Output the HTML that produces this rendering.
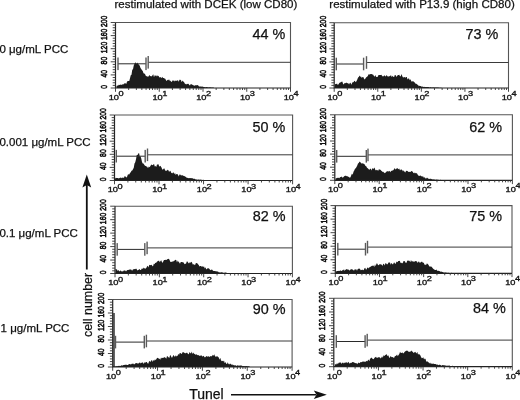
<!DOCTYPE html>
<html><head><meta charset="utf-8"><style>
html,body{margin:0;padding:0;background:#fff;}
body{width:520px;height:400px;overflow:hidden;position:relative;}
svg{position:absolute;left:0;top:0;filter:blur(0.4px);}
text{font-family:"Liberation Sans",sans-serif;fill:#111;stroke:#111;stroke-width:0.25px;}
.xl{font-size:7.0px;stroke-width:0.3px;}
.yl{font-size:8.2px;stroke-width:0.55px;}
.pc{font-size:14.4px;}
.hd{font-size:11.55px;}
.rl{font-size:11.5px;}
.ax{font-size:13px;}
</style></head><body>
<svg width="520" height="400" viewBox="0 0 520 400">
<text x="114.5" y="8.2" class="hd">restimulated with DCEK (low CD80)</text>
<text x="329.3" y="8.2" class="hd">restimulated with P13.9 (high CD80)</text>
<text x="-0.6" y="52.8" class="rl">0 &#956;g/mL PCC</text>
<text x="-0.6" y="146.3" class="rl">0.001 &#956;g/mL PCC</text>
<text x="-0.6" y="236.6" class="rl">0.1 &#956;g/mL PCC</text>
<text x="0.6" y="331.5" class="rl">1 &#956;g/mL PCC</text>
<text transform="translate(91.6,337) rotate(-90)" class="ax" style="font-size:12.4px">cell number</text>
<path d="M86.8,269.5V185" stroke="#111" stroke-width="1.8"/>
<path d="M86.8,174.5L91.2,187.5L86.8,185L82.4,187.5Z" fill="#111"/>
<text x="189.2" y="398.7" class="ax" style="font-size:14px">Tunel</text>
<path d="M231,394.7H316" stroke="#111" stroke-width="1.5"/>
<path d="M326.8,394.7L313.8,390.4L316.5,394.7L313.8,399Z" fill="#111"/>
<path d="M114.0,313V367" stroke="#555" stroke-width="1.8"/>
<path d="M116.50,88.00L116.50,86.03L117.25,85.52L118.00,85.70L118.75,84.81L119.50,85.08L120.25,84.68L121.00,84.42L121.75,84.97L122.50,84.26L123.25,84.41L124.00,83.66L124.75,83.24L125.50,83.34L126.25,84.08L127.00,81.63L127.75,81.00L128.50,81.00L129.25,80.99L130.00,78.18L130.75,75.36L131.50,74.77L132.25,69.74L133.00,69.14L133.75,65.58L134.50,63.72L135.25,62.60L136.00,62.66L136.75,64.06L137.50,62.60L138.25,63.94L139.00,64.87L139.75,65.64L140.50,68.09L141.25,69.01L142.00,70.13L142.75,71.06L143.50,73.25L144.25,73.52L145.00,74.01L145.75,75.77L146.50,76.33L147.25,76.25L148.00,77.00L148.75,75.99L149.50,74.92L150.25,76.23L151.00,75.95L151.75,76.41L152.50,75.16L153.25,74.37L154.00,77.14L154.75,75.16L155.50,75.56L156.25,76.44L157.00,75.07L157.75,76.22L158.50,75.85L159.25,77.26L160.00,77.59L160.75,76.97L161.50,78.14L162.25,76.66L163.00,77.91L163.75,77.94L164.50,78.53L165.25,78.81L166.00,80.35L166.75,80.98L167.50,79.63L168.25,80.35L169.00,79.16L169.75,80.73L170.50,80.68L171.25,82.09L172.00,81.55L172.75,80.13L173.50,80.48L174.25,81.40L175.00,80.19L175.75,81.10L176.50,80.65L177.25,80.43L178.00,80.23L178.75,81.70L179.50,79.78L180.25,79.64L181.00,80.26L181.75,82.24L182.50,80.62L183.25,81.55L184.00,82.09L184.75,83.56L185.50,83.93L186.25,84.59L187.00,83.66L187.75,83.90L188.50,83.79L189.25,85.07L190.00,85.46L190.75,84.04L191.50,84.33L192.25,84.68L193.00,84.98L193.75,85.54L194.50,85.70L195.25,85.32L196.00,85.17L196.75,85.32L197.50,85.05L198.25,85.56L199.00,86.52L199.75,86.46L200.50,86.45L201.25,86.61L202.00,86.73L202.75,86.43L203.50,87.06L204.25,87.01L205.00,87.17L205.75,87.19L206.50,87.05L207.25,87.15L208.00,87.18L208.75,87.40L209.50,87.30L210.25,87.35L211.00,87.43L211.75,87.48L212.50,87.57L213.25,87.59L214.00,87.65L214.00,88.00Z" fill="#1c1c1c"/>
<path d="M115.50,22.50H290.50V88.00" fill="none" stroke="#555" stroke-width="1.1"/>
<path d="M115.50,22.50V88.00H290.50" fill="none" stroke="#222" stroke-width="1.2"/>
<path d="M110.70,88.00H115.50M112.70,85.38H115.50M112.70,82.76H115.50M112.70,80.14H115.50M112.70,77.52H115.50M110.70,74.90H115.50M112.70,72.28H115.50M112.70,69.66H115.50M112.70,67.04H115.50M112.70,64.42H115.50M110.70,61.80H115.50M112.70,59.18H115.50M112.70,56.56H115.50M112.70,53.94H115.50M112.70,51.32H115.50M110.70,48.70H115.50M112.70,46.08H115.50M112.70,43.46H115.50M112.70,40.84H115.50M112.70,38.22H115.50M110.70,35.60H115.50M112.70,32.98H115.50M112.70,30.36H115.50M112.70,27.74H115.50M112.70,25.12H115.50M110.70,22.50H115.50" stroke="#333" stroke-width="0.9"/>
<path d="M115.50,88.00V91.80M128.67,88.00V90.00M136.37,88.00V90.00M141.84,88.00V90.00M146.08,88.00V90.00M149.54,88.00V90.00M152.47,88.00V90.00M155.01,88.00V90.00M157.25,88.00V90.00M159.25,88.00V91.80M172.42,88.00V90.00M180.12,88.00V90.00M185.59,88.00V90.00M189.83,88.00V90.00M193.29,88.00V90.00M196.22,88.00V90.00M198.76,88.00V90.00M201.00,88.00V90.00M203.00,88.00V91.80M216.17,88.00V90.00M223.87,88.00V90.00M229.34,88.00V90.00M233.58,88.00V90.00M237.04,88.00V90.00M239.97,88.00V90.00M242.51,88.00V90.00M244.75,88.00V90.00M246.75,88.00V91.80M259.92,88.00V90.00M267.62,88.00V90.00M273.09,88.00V90.00M277.33,88.00V90.00M280.79,88.00V90.00M283.72,88.00V90.00M286.26,88.00V90.00M288.50,88.00V90.00M290.50,88.00V91.80" stroke="#333" stroke-width="0.9"/>
<text transform="translate(108.70,99.80) scale(1.32,1)" class="xl">10</text>
<text transform="translate(118.50,96.00) scale(1.32,1)" class="xl">0</text>
<text transform="translate(152.45,99.80) scale(1.32,1)" class="xl">10</text>
<text transform="translate(162.25,96.00) scale(1.32,1)" class="xl">1</text>
<text transform="translate(196.20,99.80) scale(1.32,1)" class="xl">10</text>
<text transform="translate(206.00,96.00) scale(1.32,1)" class="xl">2</text>
<text transform="translate(239.95,99.80) scale(1.32,1)" class="xl">10</text>
<text transform="translate(249.75,96.00) scale(1.32,1)" class="xl">3</text>
<text transform="translate(283.70,99.80) scale(1.32,1)" class="xl">10</text>
<text transform="translate(293.50,96.00) scale(1.32,1)" class="xl">4</text>
<text transform="translate(106.90,86.80) rotate(-90) scale(0.83,1.2)" class="yl" text-anchor="middle">0</text>
<text transform="translate(106.90,73.70) rotate(-90) scale(0.83,1.2)" class="yl" text-anchor="middle">40</text>
<text transform="translate(106.90,60.60) rotate(-90) scale(0.83,1.2)" class="yl" text-anchor="middle">80</text>
<text transform="translate(106.90,47.50) rotate(-90) scale(0.83,1.2)" class="yl" text-anchor="middle">120</text>
<text transform="translate(106.90,34.40) rotate(-90) scale(0.83,1.2)" class="yl" text-anchor="middle">160</text>
<text transform="translate(106.90,21.30) rotate(-90) scale(0.83,1.2)" class="yl" text-anchor="middle">200</text>
<path d="M118.00,63.80H146.00" stroke="#2a2a2a" stroke-width="1.0"/>
<path d="M148.20,62.30H290.50" stroke="#3a3a3a" stroke-width="1.0"/>
<rect x="117.30" y="57.50" width="1.4" height="12.60" fill="#5a5a5a"/>
<rect x="145.30" y="57.50" width="1.4" height="12.60" fill="#5a5a5a"/>
<rect x="147.50" y="56.00" width="1.4" height="12.60" fill="#5a5a5a"/>
<text x="285.40" y="39.10" class="pc" text-anchor="end">44 %</text>
<path d="M334.80,88.00L334.80,84.54L335.55,83.98L336.30,84.03L337.05,83.50L337.80,84.99L338.55,84.15L339.30,83.06L340.05,82.58L340.80,82.20L341.55,81.73L342.30,81.57L343.05,83.73L343.80,84.56L344.55,83.02L345.30,83.26L346.05,82.68L346.80,82.82L347.55,83.29L348.30,83.27L349.05,84.60L349.80,82.94L350.55,82.69L351.30,84.77L352.05,83.24L352.80,81.93L353.55,82.29L354.30,80.83L355.05,81.27L355.80,82.19L356.55,80.96L357.30,79.57L358.05,77.58L358.80,76.88L359.55,75.60L360.30,76.84L361.05,76.62L361.80,77.97L362.55,77.09L363.30,77.05L364.05,78.84L364.80,79.45L365.55,78.21L366.30,77.32L367.05,76.71L367.80,76.04L368.55,74.28L369.30,74.62L370.05,74.34L370.80,73.98L371.55,74.11L372.30,74.57L373.05,74.60L373.80,75.74L374.55,76.72L375.30,75.02L376.05,76.64L376.80,76.97L377.55,76.96L378.30,75.19L379.05,75.04L379.80,75.11L380.55,74.93L381.30,74.80L382.05,75.69L382.80,76.53L383.55,76.36L384.30,75.32L385.05,75.97L385.80,76.60L386.55,74.94L387.30,76.00L388.05,76.67L388.80,76.15L389.55,76.28L390.30,75.68L391.05,75.29L391.80,77.15L392.55,75.64L393.30,76.78L394.05,77.21L394.80,75.08L395.55,74.93L396.30,76.84L397.05,76.14L397.80,74.88L398.55,74.95L399.30,74.82L400.05,76.60L400.80,75.92L401.55,73.88L402.30,76.22L403.05,77.57L403.80,77.13L404.55,77.04L405.30,77.70L406.05,76.91L406.80,76.93L407.55,79.51L408.30,78.55L409.05,78.56L409.80,80.33L410.55,79.13L411.30,81.29L412.05,81.87L412.80,80.89L413.55,81.55L414.30,82.22L415.05,82.74L415.80,83.99L416.55,83.87L417.30,84.64L418.05,84.70L418.80,86.18L419.55,85.70L420.30,85.99L421.05,86.29L421.80,86.80L422.55,86.46L423.30,87.04L424.05,86.82L424.80,86.99L425.55,87.11L426.30,86.98L427.05,87.12L427.80,87.07L428.55,87.07L429.30,87.38L430.05,87.15L430.80,87.27L431.55,87.41L432.30,87.38L433.05,87.34L433.80,87.44L434.55,87.49L435.30,87.60L436.05,87.48L436.80,87.61L437.55,87.58L438.30,87.62L439.05,87.74L439.80,87.71L440.55,87.75L441.30,87.81L442.00,88.00Z" fill="#1c1c1c"/>
<path d="M334.20,22.70H508.50V88.00" fill="none" stroke="#555" stroke-width="1.1"/>
<path d="M334.20,22.70V88.00H508.50" fill="none" stroke="#222" stroke-width="1.2"/>
<path d="M329.40,88.00H334.20M331.40,85.39H334.20M331.40,82.78H334.20M331.40,80.16H334.20M331.40,77.55H334.20M329.40,74.94H334.20M331.40,72.33H334.20M331.40,69.72H334.20M331.40,67.10H334.20M331.40,64.49H334.20M329.40,61.88H334.20M331.40,59.27H334.20M331.40,56.66H334.20M331.40,54.04H334.20M331.40,51.43H334.20M329.40,48.82H334.20M331.40,46.21H334.20M331.40,43.60H334.20M331.40,40.98H334.20M331.40,38.37H334.20M329.40,35.76H334.20M331.40,33.15H334.20M331.40,30.54H334.20M331.40,27.92H334.20M331.40,25.31H334.20M329.40,22.70H334.20" stroke="#333" stroke-width="0.9"/>
<path d="M334.20,88.00V91.80M347.32,88.00V90.00M354.99,88.00V90.00M360.43,88.00V90.00M364.66,88.00V90.00M368.11,88.00V90.00M371.03,88.00V90.00M373.55,88.00V90.00M375.78,88.00V90.00M377.77,88.00V91.80M390.89,88.00V90.00M398.57,88.00V90.00M404.01,88.00V90.00M408.23,88.00V90.00M411.68,88.00V90.00M414.60,88.00V90.00M417.13,88.00V90.00M419.36,88.00V90.00M421.35,88.00V91.80M434.47,88.00V90.00M442.14,88.00V90.00M447.58,88.00V90.00M451.81,88.00V90.00M455.26,88.00V90.00M458.18,88.00V90.00M460.70,88.00V90.00M462.93,88.00V90.00M464.93,88.00V91.80M478.04,88.00V90.00M485.72,88.00V90.00M491.16,88.00V90.00M495.38,88.00V90.00M498.83,88.00V90.00M501.75,88.00V90.00M504.28,88.00V90.00M506.51,88.00V90.00M508.50,88.00V91.80" stroke="#333" stroke-width="0.9"/>
<text transform="translate(327.40,99.80) scale(1.32,1)" class="xl">10</text>
<text transform="translate(337.20,96.00) scale(1.32,1)" class="xl">0</text>
<text transform="translate(370.97,99.80) scale(1.32,1)" class="xl">10</text>
<text transform="translate(380.77,96.00) scale(1.32,1)" class="xl">1</text>
<text transform="translate(414.55,99.80) scale(1.32,1)" class="xl">10</text>
<text transform="translate(424.35,96.00) scale(1.32,1)" class="xl">2</text>
<text transform="translate(458.12,99.80) scale(1.32,1)" class="xl">10</text>
<text transform="translate(467.93,96.00) scale(1.32,1)" class="xl">3</text>
<text transform="translate(501.70,99.80) scale(1.32,1)" class="xl">10</text>
<text transform="translate(511.50,96.00) scale(1.32,1)" class="xl">4</text>
<text transform="translate(325.60,86.80) rotate(-90) scale(0.83,1.2)" class="yl" text-anchor="middle">0</text>
<text transform="translate(325.60,73.74) rotate(-90) scale(0.83,1.2)" class="yl" text-anchor="middle">40</text>
<text transform="translate(325.60,60.68) rotate(-90) scale(0.83,1.2)" class="yl" text-anchor="middle">80</text>
<text transform="translate(325.60,47.62) rotate(-90) scale(0.83,1.2)" class="yl" text-anchor="middle">120</text>
<text transform="translate(325.60,34.56) rotate(-90) scale(0.83,1.2)" class="yl" text-anchor="middle">160</text>
<text transform="translate(325.60,21.50) rotate(-90) scale(0.83,1.2)" class="yl" text-anchor="middle">200</text>
<path d="M336.30,64.00H363.60" stroke="#2a2a2a" stroke-width="1.0"/>
<path d="M366.50,62.50H508.50" stroke="#3a3a3a" stroke-width="1.0"/>
<rect x="335.60" y="57.70" width="1.4" height="12.60" fill="#5a5a5a"/>
<rect x="362.90" y="57.70" width="1.4" height="12.60" fill="#5a5a5a"/>
<rect x="365.80" y="56.20" width="1.4" height="12.60" fill="#5a5a5a"/>
<text x="498.40" y="39.10" class="pc" text-anchor="end">73 %</text>
<path d="M115.00,180.50L115.00,178.67L115.75,177.81L116.50,178.11L117.25,178.01L118.00,178.09L118.75,178.42L119.50,177.93L120.25,177.67L121.00,177.40L121.75,178.23L122.50,177.50L123.25,177.79L124.00,177.84L124.75,176.07L125.50,176.45L126.25,177.42L127.00,176.88L127.75,174.72L128.50,174.31L129.25,174.53L130.00,172.97L130.75,172.27L131.50,170.74L132.25,170.57L133.00,169.25L133.75,167.64L134.50,163.47L135.25,162.15L136.00,159.16L136.75,155.00L137.50,155.03L138.25,153.87L139.00,152.81L139.75,156.46L140.50,156.33L141.25,158.40L142.00,162.10L142.75,163.58L143.50,163.54L144.25,164.83L145.00,165.80L145.75,166.11L146.50,166.44L147.25,166.84L148.00,168.14L148.75,166.43L149.50,167.26L150.25,166.35L151.00,164.90L151.75,164.59L152.50,165.20L153.25,164.73L154.00,163.73L154.75,166.52L155.50,166.05L156.25,166.95L157.00,164.40L157.75,164.50L158.50,164.34L159.25,166.65L160.00,165.81L160.75,166.26L161.50,167.49L162.25,169.61L163.00,169.62L163.75,168.40L164.50,168.59L165.25,171.10L166.00,170.19L166.75,170.89L167.50,169.77L168.25,170.03L169.00,171.69L169.75,171.17L170.50,170.79L171.25,173.34L172.00,172.50L172.75,173.44L173.50,172.03L174.25,174.37L175.00,172.74L175.75,175.08L176.50,174.02L177.25,174.01L178.00,174.83L178.75,176.38L179.50,174.60L180.25,174.57L181.00,175.60L181.75,175.15L182.50,175.23L183.25,175.64L184.00,175.89L184.75,176.37L185.50,176.85L186.25,177.13L187.00,178.12L187.75,177.65L188.50,178.15L189.25,178.09L190.00,178.22L190.75,178.02L191.50,178.14L192.25,178.02L193.00,178.76L193.75,178.75L194.50,178.70L195.25,179.12L196.00,179.69L196.75,179.26L197.50,179.68L198.25,179.48L199.00,179.56L199.75,179.80L200.50,179.60L201.25,179.70L202.00,179.83L202.75,180.03L203.50,179.79L204.25,180.02L205.00,180.00L205.75,180.02L206.00,180.50Z" fill="#1c1c1c"/>
<path d="M114.50,115.00H292.60V180.50" fill="none" stroke="#555" stroke-width="1.1"/>
<path d="M114.50,115.00V180.50H292.60" fill="none" stroke="#222" stroke-width="1.2"/>
<path d="M109.70,180.50H114.50M111.70,177.88H114.50M111.70,175.26H114.50M111.70,172.64H114.50M111.70,170.02H114.50M109.70,167.40H114.50M111.70,164.78H114.50M111.70,162.16H114.50M111.70,159.54H114.50M111.70,156.92H114.50M109.70,154.30H114.50M111.70,151.68H114.50M111.70,149.06H114.50M111.70,146.44H114.50M111.70,143.82H114.50M109.70,141.20H114.50M111.70,138.58H114.50M111.70,135.96H114.50M111.70,133.34H114.50M111.70,130.72H114.50M109.70,128.10H114.50M111.70,125.48H114.50M111.70,122.86H114.50M111.70,120.24H114.50M111.70,117.62H114.50M109.70,115.00H114.50" stroke="#333" stroke-width="0.9"/>
<path d="M114.50,180.50V184.30M127.90,180.50V182.50M135.74,180.50V182.50M141.31,180.50V182.50M145.62,180.50V182.50M149.15,180.50V182.50M152.13,180.50V182.50M154.71,180.50V182.50M156.99,180.50V182.50M159.03,180.50V184.30M172.43,180.50V182.50M180.27,180.50V182.50M185.83,180.50V182.50M190.15,180.50V182.50M193.67,180.50V182.50M196.65,180.50V182.50M199.24,180.50V182.50M201.51,180.50V182.50M203.55,180.50V184.30M216.95,180.50V182.50M224.79,180.50V182.50M230.36,180.50V182.50M234.67,180.50V182.50M238.20,180.50V182.50M241.18,180.50V182.50M243.76,180.50V182.50M246.04,180.50V182.50M248.08,180.50V184.30M261.48,180.50V182.50M269.32,180.50V182.50M274.88,180.50V182.50M279.20,180.50V182.50M282.72,180.50V182.50M285.70,180.50V182.50M288.29,180.50V182.50M290.56,180.50V182.50M292.60,180.50V184.30" stroke="#333" stroke-width="0.9"/>
<text transform="translate(107.70,192.30) scale(1.32,1)" class="xl">10</text>
<text transform="translate(117.50,188.50) scale(1.32,1)" class="xl">0</text>
<text transform="translate(152.22,192.30) scale(1.32,1)" class="xl">10</text>
<text transform="translate(162.03,188.50) scale(1.32,1)" class="xl">1</text>
<text transform="translate(196.75,192.30) scale(1.32,1)" class="xl">10</text>
<text transform="translate(206.55,188.50) scale(1.32,1)" class="xl">2</text>
<text transform="translate(241.28,192.30) scale(1.32,1)" class="xl">10</text>
<text transform="translate(251.08,188.50) scale(1.32,1)" class="xl">3</text>
<text transform="translate(285.80,192.30) scale(1.32,1)" class="xl">10</text>
<text transform="translate(295.60,188.50) scale(1.32,1)" class="xl">4</text>
<text transform="translate(105.90,179.30) rotate(-90) scale(0.83,1.2)" class="yl" text-anchor="middle">0</text>
<text transform="translate(105.90,166.20) rotate(-90) scale(0.83,1.2)" class="yl" text-anchor="middle">40</text>
<text transform="translate(105.90,153.10) rotate(-90) scale(0.83,1.2)" class="yl" text-anchor="middle">80</text>
<text transform="translate(105.90,140.00) rotate(-90) scale(0.83,1.2)" class="yl" text-anchor="middle">120</text>
<text transform="translate(105.90,126.90) rotate(-90) scale(0.83,1.2)" class="yl" text-anchor="middle">160</text>
<text transform="translate(105.90,113.80) rotate(-90) scale(0.83,1.2)" class="yl" text-anchor="middle">200</text>
<path d="M116.30,156.20H145.20" stroke="#2a2a2a" stroke-width="1.0"/>
<path d="M147.50,154.80H292.60" stroke="#3a3a3a" stroke-width="1.0"/>
<rect x="115.60" y="149.90" width="1.4" height="12.60" fill="#5a5a5a"/>
<rect x="144.50" y="149.90" width="1.4" height="12.60" fill="#5a5a5a"/>
<rect x="146.80" y="148.50" width="1.4" height="12.60" fill="#5a5a5a"/>
<text x="285.40" y="131.90" class="pc" text-anchor="end">50 %</text>
<path d="M335.50,180.30L335.50,178.40L336.25,178.25L337.00,177.93L337.75,177.81L338.50,177.63L339.25,178.23L340.00,177.30L340.75,176.92L341.50,176.57L342.25,177.59L343.00,177.51L343.75,176.87L344.50,175.95L345.25,175.74L346.00,175.67L346.75,176.25L347.50,176.13L348.25,176.87L349.00,176.94L349.75,177.71L350.50,177.23L351.25,175.14L352.00,173.49L352.75,174.73L353.50,171.72L354.25,170.62L355.00,168.87L355.75,168.17L356.50,166.99L357.25,165.57L358.00,163.40L358.75,162.98L359.50,161.47L360.25,162.34L361.00,162.64L361.75,163.71L362.50,163.32L363.25,163.51L364.00,164.09L364.75,164.51L365.50,165.91L366.25,166.30L367.00,167.74L367.75,168.18L368.50,169.12L369.25,169.99L370.00,168.64L370.75,168.69L371.50,170.61L372.25,167.91L373.00,169.05L373.75,168.50L374.50,167.55L375.25,169.84L376.00,170.42L376.75,169.70L377.50,170.25L378.25,170.72L379.00,169.01L379.75,169.82L380.50,169.77L381.25,170.85L382.00,171.29L382.75,171.97L383.50,171.74L384.25,173.37L385.00,172.61L385.75,172.65L386.50,171.45L387.25,171.21L388.00,171.30L388.75,171.58L389.50,170.77L390.25,172.28L391.00,170.97L391.75,170.81L392.50,170.42L393.25,170.21L394.00,169.25L394.75,168.03L395.50,169.48L396.25,169.08L397.00,168.10L397.75,168.54L398.50,169.36L399.25,168.49L400.00,170.49L400.75,169.44L401.50,169.46L402.25,169.98L403.00,171.50L403.75,170.31L404.50,171.71L405.25,172.60L406.00,170.94L406.75,170.66L407.50,170.99L408.25,171.71L409.00,172.10L409.75,171.71L410.50,171.92L411.25,170.94L412.00,171.29L412.75,171.72L413.50,173.31L414.25,172.41L415.00,173.43L415.75,172.75L416.50,173.14L417.25,173.79L418.00,175.22L418.75,175.65L419.50,175.94L420.25,175.35L421.00,176.17L421.75,176.33L422.50,176.60L423.25,176.42L424.00,178.01L424.75,177.04L425.50,178.49L426.25,178.54L427.00,177.61L427.75,178.15L428.50,178.77L429.25,179.11L430.00,178.69L430.75,178.76L431.50,178.90L432.25,179.52L433.00,179.19L433.75,179.49L434.50,179.47L435.25,179.64L436.00,179.86L436.75,179.62L437.50,179.86L438.25,179.79L439.00,179.95L439.75,179.92L440.50,179.85L441.25,180.03L442.00,179.95L442.75,179.93L443.50,179.96L444.25,180.03L445.00,180.06L445.75,180.07L446.00,180.30Z" fill="#1c1c1c"/>
<path d="M334.80,114.80H512.40V180.30" fill="none" stroke="#555" stroke-width="1.1"/>
<path d="M334.80,114.80V180.30H512.40" fill="none" stroke="#222" stroke-width="1.2"/>
<path d="M330.00,180.30H334.80M332.00,177.68H334.80M332.00,175.06H334.80M332.00,172.44H334.80M332.00,169.82H334.80M330.00,167.20H334.80M332.00,164.58H334.80M332.00,161.96H334.80M332.00,159.34H334.80M332.00,156.72H334.80M330.00,154.10H334.80M332.00,151.48H334.80M332.00,148.86H334.80M332.00,146.24H334.80M332.00,143.62H334.80M330.00,141.00H334.80M332.00,138.38H334.80M332.00,135.76H334.80M332.00,133.14H334.80M332.00,130.52H334.80M330.00,127.90H334.80M332.00,125.28H334.80M332.00,122.66H334.80M332.00,120.04H334.80M332.00,117.42H334.80M330.00,114.80H334.80" stroke="#333" stroke-width="0.9"/>
<path d="M334.80,180.30V184.10M348.17,180.30V182.30M355.98,180.30V182.30M361.53,180.30V182.30M365.83,180.30V182.30M369.35,180.30V182.30M372.32,180.30V182.30M374.90,180.30V182.30M377.17,180.30V182.30M379.20,180.30V184.10M392.57,180.30V182.30M400.38,180.30V182.30M405.93,180.30V182.30M410.23,180.30V182.30M413.75,180.30V182.30M416.72,180.30V182.30M419.30,180.30V182.30M421.57,180.30V182.30M423.60,180.30V184.10M436.97,180.30V182.30M444.78,180.30V182.30M450.33,180.30V182.30M454.63,180.30V182.30M458.15,180.30V182.30M461.12,180.30V182.30M463.70,180.30V182.30M465.97,180.30V182.30M468.00,180.30V184.10M481.37,180.30V182.30M489.18,180.30V182.30M494.73,180.30V182.30M499.03,180.30V182.30M502.55,180.30V182.30M505.52,180.30V182.30M508.10,180.30V182.30M510.37,180.30V182.30M512.40,180.30V184.10" stroke="#333" stroke-width="0.9"/>
<text transform="translate(328.00,192.10) scale(1.32,1)" class="xl">10</text>
<text transform="translate(337.80,188.30) scale(1.32,1)" class="xl">0</text>
<text transform="translate(372.40,192.10) scale(1.32,1)" class="xl">10</text>
<text transform="translate(382.20,188.30) scale(1.32,1)" class="xl">1</text>
<text transform="translate(416.80,192.10) scale(1.32,1)" class="xl">10</text>
<text transform="translate(426.60,188.30) scale(1.32,1)" class="xl">2</text>
<text transform="translate(461.20,192.10) scale(1.32,1)" class="xl">10</text>
<text transform="translate(471.00,188.30) scale(1.32,1)" class="xl">3</text>
<text transform="translate(505.60,192.10) scale(1.32,1)" class="xl">10</text>
<text transform="translate(515.40,188.30) scale(1.32,1)" class="xl">4</text>
<text transform="translate(326.20,179.10) rotate(-90) scale(0.83,1.2)" class="yl" text-anchor="middle">0</text>
<text transform="translate(326.20,166.00) rotate(-90) scale(0.83,1.2)" class="yl" text-anchor="middle">40</text>
<text transform="translate(326.20,152.90) rotate(-90) scale(0.83,1.2)" class="yl" text-anchor="middle">80</text>
<text transform="translate(326.20,139.80) rotate(-90) scale(0.83,1.2)" class="yl" text-anchor="middle">120</text>
<text transform="translate(326.20,126.70) rotate(-90) scale(0.83,1.2)" class="yl" text-anchor="middle">160</text>
<text transform="translate(326.20,113.60) rotate(-90) scale(0.83,1.2)" class="yl" text-anchor="middle">200</text>
<path d="M336.70,156.30H366.30" stroke="#2a2a2a" stroke-width="1.0"/>
<path d="M368.00,154.90H512.40" stroke="#3a3a3a" stroke-width="1.0"/>
<rect x="336.00" y="150.00" width="1.4" height="12.60" fill="#5a5a5a"/>
<rect x="365.60" y="150.00" width="1.4" height="12.60" fill="#5a5a5a"/>
<rect x="367.30" y="148.60" width="1.4" height="12.60" fill="#5a5a5a"/>
<text x="502.10" y="131.50" class="pc" text-anchor="end">62 %</text>
<path d="M115.50,273.50L115.50,268.87L116.25,269.26L117.00,269.54L117.75,270.90L118.50,269.97L119.25,271.20L120.00,271.37L120.75,270.36L121.50,271.56L122.25,271.13L123.00,271.50L123.75,270.51L124.50,270.51L125.25,270.43L126.00,271.53L126.75,270.56L127.50,270.08L128.25,270.08L129.00,269.75L129.75,269.43L130.50,269.35L131.25,270.61L132.00,269.33L132.75,270.75L133.50,269.06L134.25,268.97L135.00,269.34L135.75,268.64L136.50,268.84L137.25,270.41L138.00,270.08L138.75,269.76L139.50,269.09L140.25,269.97L141.00,270.01L141.75,268.57L142.50,269.01L143.25,267.39L144.00,268.84L144.75,267.88L145.50,268.69L146.25,267.98L147.00,266.54L147.75,265.70L148.50,267.48L149.25,264.79L150.00,265.35L150.75,264.91L151.50,264.68L152.25,265.78L153.00,266.40L153.75,263.69L154.50,264.21L155.25,262.76L156.00,262.89L156.75,262.07L157.50,261.27L158.25,260.90L159.00,260.60L159.75,262.32L160.50,260.95L161.25,260.33L162.00,262.32L162.75,262.69L163.50,260.75L164.25,260.01L165.00,259.95L165.75,259.69L166.50,259.97L167.25,259.20L168.00,259.04L168.75,258.72L169.50,259.86L170.25,261.70L171.00,261.94L171.75,261.68L172.50,261.59L173.25,261.57L174.00,260.87L174.75,260.48L175.50,259.74L176.25,259.98L177.00,262.54L177.75,260.60L178.50,261.80L179.25,262.61L180.00,263.85L180.75,262.02L181.50,262.12L182.25,262.08L183.00,262.40L183.75,262.51L184.50,264.21L185.25,263.71L186.00,263.71L186.75,261.53L187.50,261.43L188.25,262.83L189.00,263.41L189.75,262.13L190.50,262.65L191.25,261.73L192.00,262.51L192.75,264.43L193.50,264.24L194.25,264.53L195.00,265.17L195.75,263.15L196.50,263.12L197.25,263.36L198.00,264.32L198.75,265.08L199.50,266.40L200.25,265.94L201.00,266.06L201.75,266.82L202.50,266.25L203.25,266.90L204.00,266.29L204.75,268.42L205.50,267.28L206.25,269.55L207.00,268.81L207.75,268.16L208.50,268.16L209.25,268.65L210.00,269.76L210.75,270.19L211.50,269.49L212.25,269.81L213.00,270.66L213.75,270.98L214.50,270.90L215.25,270.93L216.00,271.51L216.75,271.24L217.50,271.58L218.25,271.87L219.00,272.47L219.75,272.22L220.50,272.53L221.25,272.28L222.00,272.27L222.75,272.38L223.50,272.85L224.25,272.73L225.00,272.61L225.75,272.62L226.50,272.81L227.25,272.93L228.00,272.91L228.75,272.94L229.50,273.10L230.00,273.50Z" fill="#1c1c1c"/>
<path d="M115.00,206.20H292.40V273.50" fill="none" stroke="#555" stroke-width="1.1"/>
<path d="M115.00,206.20V273.50H292.40" fill="none" stroke="#222" stroke-width="1.2"/>
<path d="M110.20,273.50H115.00M112.20,270.81H115.00M112.20,268.12H115.00M112.20,265.42H115.00M112.20,262.73H115.00M110.20,260.04H115.00M112.20,257.35H115.00M112.20,254.66H115.00M112.20,251.96H115.00M112.20,249.27H115.00M110.20,246.58H115.00M112.20,243.89H115.00M112.20,241.20H115.00M112.20,238.50H115.00M112.20,235.81H115.00M110.20,233.12H115.00M112.20,230.43H115.00M112.20,227.74H115.00M112.20,225.04H115.00M112.20,222.35H115.00M110.20,219.66H115.00M112.20,216.97H115.00M112.20,214.28H115.00M112.20,211.58H115.00M112.20,208.89H115.00M110.20,206.20H115.00" stroke="#333" stroke-width="0.9"/>
<path d="M115.00,273.50V277.30M128.35,273.50V275.50M136.16,273.50V275.50M141.70,273.50V275.50M146.00,273.50V275.50M149.51,273.50V275.50M152.48,273.50V275.50M155.05,273.50V275.50M157.32,273.50V275.50M159.35,273.50V277.30M172.70,273.50V275.50M180.51,273.50V275.50M186.05,273.50V275.50M190.35,273.50V275.50M193.86,273.50V275.50M196.83,273.50V275.50M199.40,273.50V275.50M201.67,273.50V275.50M203.70,273.50V277.30M217.05,273.50V275.50M224.86,273.50V275.50M230.40,273.50V275.50M234.70,273.50V275.50M238.21,273.50V275.50M241.18,273.50V275.50M243.75,273.50V275.50M246.02,273.50V275.50M248.05,273.50V277.30M261.40,273.50V275.50M269.21,273.50V275.50M274.75,273.50V275.50M279.05,273.50V275.50M282.56,273.50V275.50M285.53,273.50V275.50M288.10,273.50V275.50M290.37,273.50V275.50M292.40,273.50V277.30" stroke="#333" stroke-width="0.9"/>
<text transform="translate(108.20,285.30) scale(1.32,1)" class="xl">10</text>
<text transform="translate(118.00,281.50) scale(1.32,1)" class="xl">0</text>
<text transform="translate(152.55,285.30) scale(1.32,1)" class="xl">10</text>
<text transform="translate(162.35,281.50) scale(1.32,1)" class="xl">1</text>
<text transform="translate(196.90,285.30) scale(1.32,1)" class="xl">10</text>
<text transform="translate(206.70,281.50) scale(1.32,1)" class="xl">2</text>
<text transform="translate(241.25,285.30) scale(1.32,1)" class="xl">10</text>
<text transform="translate(251.05,281.50) scale(1.32,1)" class="xl">3</text>
<text transform="translate(285.60,285.30) scale(1.32,1)" class="xl">10</text>
<text transform="translate(295.40,281.50) scale(1.32,1)" class="xl">4</text>
<text transform="translate(106.40,272.30) rotate(-90) scale(0.83,1.2)" class="yl" text-anchor="middle">0</text>
<text transform="translate(106.40,258.84) rotate(-90) scale(0.83,1.2)" class="yl" text-anchor="middle">40</text>
<text transform="translate(106.40,245.38) rotate(-90) scale(0.83,1.2)" class="yl" text-anchor="middle">80</text>
<text transform="translate(106.40,231.92) rotate(-90) scale(0.83,1.2)" class="yl" text-anchor="middle">120</text>
<text transform="translate(106.40,218.46) rotate(-90) scale(0.83,1.2)" class="yl" text-anchor="middle">160</text>
<text transform="translate(106.40,205.00) rotate(-90) scale(0.83,1.2)" class="yl" text-anchor="middle">200</text>
<path d="M117.20,249.40H144.80" stroke="#2a2a2a" stroke-width="1.0"/>
<path d="M147.10,247.90H292.40" stroke="#3a3a3a" stroke-width="1.0"/>
<rect x="116.50" y="243.10" width="1.4" height="12.60" fill="#5a5a5a"/>
<rect x="144.10" y="243.10" width="1.4" height="12.60" fill="#5a5a5a"/>
<rect x="146.40" y="241.60" width="1.4" height="12.60" fill="#5a5a5a"/>
<text x="285.50" y="221.40" class="pc" text-anchor="end">82 %</text>
<path d="M336.00,273.30L336.00,271.79L336.75,270.98L337.50,270.94L338.25,270.94L339.00,270.85L339.75,271.05L340.50,270.25L341.25,270.97L342.00,270.71L342.75,270.11L343.50,269.50L344.25,270.90L345.00,269.28L345.75,270.24L346.50,268.93L347.25,268.99L348.00,270.14L348.75,269.23L349.50,270.77L350.25,269.71L351.00,269.29L351.75,269.34L352.50,269.62L353.25,270.12L354.00,270.84L354.75,269.25L355.50,269.57L356.25,269.20L357.00,270.77L357.75,268.90L358.50,268.71L359.25,268.60L360.00,268.94L360.75,270.18L361.50,270.06L362.25,269.50L363.00,270.33L363.75,270.02L364.50,268.18L365.25,267.79L366.00,269.78L366.75,268.95L367.50,267.21L368.25,268.42L369.00,267.48L369.75,267.20L370.50,266.78L371.25,266.16L372.00,265.68L372.75,265.70L373.50,265.52L374.25,267.06L375.00,264.31L375.75,266.24L376.50,263.57L377.25,263.43L378.00,265.05L378.75,265.31L379.50,264.36L380.25,263.96L381.00,264.83L381.75,264.46L382.50,266.06L383.25,263.85L384.00,264.05L384.75,265.51L385.50,263.10L386.25,263.48L387.00,264.48L387.75,264.10L388.50,262.42L389.25,262.41L390.00,262.43L390.75,264.68L391.50,262.70L392.25,264.03L393.00,264.59L393.75,262.86L394.50,262.57L395.25,264.29L396.00,262.67L396.75,261.39L397.50,262.23L398.25,261.08L399.00,261.10L399.75,260.87L400.50,262.63L401.25,263.32L402.00,262.41L402.75,263.48L403.50,260.98L404.25,261.08L405.00,261.48L405.75,262.97L406.50,262.81L407.25,260.83L408.00,260.40L408.75,260.69L409.50,260.76L410.25,262.13L411.00,259.89L411.75,261.45L412.50,261.13L413.25,261.61L414.00,261.70L414.75,261.43L415.50,260.97L416.25,261.23L417.00,261.60L417.75,263.01L418.50,261.40L419.25,261.65L420.00,263.20L420.75,261.93L421.50,261.78L422.25,261.87L423.00,263.00L423.75,262.55L424.50,264.76L425.25,264.51L426.00,265.36L426.75,263.62L427.50,263.87L428.25,264.39L429.00,265.68L429.75,266.78L430.50,266.45L431.25,266.45L432.00,267.29L432.75,268.32L433.50,268.92L434.25,269.49L435.00,270.11L435.75,269.93L436.50,269.44L437.25,270.99L438.00,270.48L438.75,271.08L439.50,271.11L440.25,271.75L441.00,271.53L441.75,271.83L442.50,272.10L443.25,272.21L444.00,272.64L444.75,272.52L445.50,272.50L446.25,272.59L447.00,272.90L447.75,272.77L448.50,272.76L449.25,272.93L450.00,272.91L450.75,273.04L451.50,272.87L452.25,272.95L453.00,273.05L453.75,273.08L454.50,273.11L455.25,273.03L456.00,273.08L456.00,273.30Z" fill="#1c1c1c"/>
<path d="M335.30,205.60H512.00V273.30" fill="none" stroke="#555" stroke-width="1.1"/>
<path d="M335.30,205.60V273.30H512.00" fill="none" stroke="#222" stroke-width="1.2"/>
<path d="M330.50,273.30H335.30M332.50,270.59H335.30M332.50,267.88H335.30M332.50,265.18H335.30M332.50,262.47H335.30M330.50,259.76H335.30M332.50,257.05H335.30M332.50,254.34H335.30M332.50,251.64H335.30M332.50,248.93H335.30M330.50,246.22H335.30M332.50,243.51H335.30M332.50,240.80H335.30M332.50,238.10H335.30M332.50,235.39H335.30M330.50,232.68H335.30M332.50,229.97H335.30M332.50,227.26H335.30M332.50,224.56H335.30M332.50,221.85H335.30M330.50,219.14H335.30M332.50,216.43H335.30M332.50,213.72H335.30M332.50,211.02H335.30M332.50,208.31H335.30M330.50,205.60H335.30" stroke="#333" stroke-width="0.9"/>
<path d="M335.30,273.30V277.10M348.60,273.30V275.30M356.38,273.30V275.30M361.90,273.30V275.30M366.18,273.30V275.30M369.67,273.30V275.30M372.63,273.30V275.30M375.19,273.30V275.30M377.45,273.30V275.30M379.48,273.30V277.10M392.77,273.30V275.30M400.55,273.30V275.30M406.07,273.30V275.30M410.35,273.30V275.30M413.85,273.30V275.30M416.81,273.30V275.30M419.37,273.30V275.30M421.63,273.30V275.30M423.65,273.30V277.10M436.95,273.30V275.30M444.73,273.30V275.30M450.25,273.30V275.30M454.53,273.30V275.30M458.02,273.30V275.30M460.98,273.30V275.30M463.54,273.30V275.30M465.80,273.30V275.30M467.82,273.30V277.10M481.12,273.30V275.30M488.90,273.30V275.30M494.42,273.30V275.30M498.70,273.30V275.30M502.20,273.30V275.30M505.16,273.30V275.30M507.72,273.30V275.30M509.98,273.30V275.30M512.00,273.30V277.10" stroke="#333" stroke-width="0.9"/>
<text transform="translate(328.50,285.10) scale(1.32,1)" class="xl">10</text>
<text transform="translate(338.30,281.30) scale(1.32,1)" class="xl">0</text>
<text transform="translate(372.68,285.10) scale(1.32,1)" class="xl">10</text>
<text transform="translate(382.48,281.30) scale(1.32,1)" class="xl">1</text>
<text transform="translate(416.85,285.10) scale(1.32,1)" class="xl">10</text>
<text transform="translate(426.65,281.30) scale(1.32,1)" class="xl">2</text>
<text transform="translate(461.02,285.10) scale(1.32,1)" class="xl">10</text>
<text transform="translate(470.82,281.30) scale(1.32,1)" class="xl">3</text>
<text transform="translate(505.20,285.10) scale(1.32,1)" class="xl">10</text>
<text transform="translate(515.00,281.30) scale(1.32,1)" class="xl">4</text>
<text transform="translate(326.70,272.10) rotate(-90) scale(0.83,1.2)" class="yl" text-anchor="middle">0</text>
<text transform="translate(326.70,258.56) rotate(-90) scale(0.83,1.2)" class="yl" text-anchor="middle">40</text>
<text transform="translate(326.70,245.02) rotate(-90) scale(0.83,1.2)" class="yl" text-anchor="middle">80</text>
<text transform="translate(326.70,231.48) rotate(-90) scale(0.83,1.2)" class="yl" text-anchor="middle">120</text>
<text transform="translate(326.70,217.94) rotate(-90) scale(0.83,1.2)" class="yl" text-anchor="middle">160</text>
<text transform="translate(326.70,204.40) rotate(-90) scale(0.83,1.2)" class="yl" text-anchor="middle">200</text>
<path d="M337.80,249.20H365.50" stroke="#2a2a2a" stroke-width="1.0"/>
<path d="M367.50,247.10H512.00" stroke="#3a3a3a" stroke-width="1.0"/>
<rect x="337.10" y="242.90" width="1.4" height="12.60" fill="#5a5a5a"/>
<rect x="364.80" y="242.90" width="1.4" height="12.60" fill="#5a5a5a"/>
<rect x="366.80" y="240.80" width="1.4" height="12.60" fill="#5a5a5a"/>
<text x="502.10" y="221.10" class="pc" text-anchor="end">75 %</text>
<path d="M113.00,367.00L113.00,366.19L113.75,366.20L114.50,366.52L115.25,366.29L116.00,366.41L116.75,366.03L117.50,366.25L118.25,365.90L119.00,365.72L119.75,365.97L120.50,366.06L121.25,365.34L122.00,365.55L122.75,365.48L123.50,365.05L124.25,365.05L125.00,364.78L125.75,364.71L126.50,364.64L127.25,364.91L128.00,364.89L128.75,364.27L129.50,364.06L130.25,364.17L131.00,364.58L131.75,363.81L132.50,363.83L133.25,363.60L134.00,364.48L134.75,363.88L135.50,363.16L136.25,363.07L137.00,363.31L137.75,363.50L138.50,363.62L139.25,362.63L140.00,362.61L140.75,363.53L141.50,362.80L142.25,362.49L143.00,362.43L143.75,364.03L144.50,362.22L145.25,362.69L146.00,362.09L146.75,362.12L147.50,363.33L148.25,363.70L149.00,361.45L149.75,360.93L150.50,362.10L151.25,360.55L152.00,360.10L152.75,361.93L153.50,360.01L154.25,360.87L155.00,359.22L155.75,360.36L156.50,358.64L157.25,357.95L158.00,357.73L158.75,358.65L159.50,358.85L160.25,359.73L161.00,357.46L161.75,358.53L162.50,357.75L163.25,357.99L164.00,357.14L164.75,357.27L165.50,357.74L166.25,358.75L167.00,356.05L167.75,356.42L168.50,357.34L169.25,357.88L170.00,355.53L170.75,355.35L171.50,357.54L172.25,357.59L173.00,355.81L173.75,354.92L174.50,357.10L175.25,355.27L176.00,356.82L176.75,355.72L177.50,356.02L178.25,353.83L179.00,355.04L179.75,353.09L180.50,353.05L181.25,354.01L182.00,353.53L182.75,351.97L183.50,352.23L184.25,352.80L185.00,353.31L185.75,353.17L186.50,352.71L187.25,352.76L188.00,353.89L188.75,354.37L189.50,352.06L190.25,352.93L191.00,353.42L191.75,351.62L192.50,353.91L193.25,352.41L194.00,353.85L194.75,354.07L195.50,354.68L196.25,354.22L197.00,354.70L197.75,355.34L198.50,355.10L199.25,355.96L200.00,355.54L200.75,355.71L201.50,355.15L202.25,356.43L203.00,356.14L203.75,355.64L204.50,357.16L205.25,357.30L206.00,356.42L206.75,356.03L207.50,356.82L208.25,356.24L209.00,356.39L209.75,357.00L210.50,356.03L211.25,356.31L212.00,356.13L212.75,354.87L213.50,355.73L214.25,354.18L215.00,356.21L215.75,356.85L216.50,356.49L217.25,356.02L218.00,357.25L218.75,357.32L219.50,359.64L220.25,357.81L221.00,360.21L221.75,361.27L222.50,360.78L223.25,361.60L224.00,360.41L224.75,363.24L225.50,362.04L226.25,363.84L227.00,363.88L227.75,362.37L228.50,363.94L229.25,364.60L230.00,363.49L230.75,364.07L231.50,364.87L232.25,364.33L233.00,365.42L233.75,364.85L234.50,365.61L235.25,365.17L236.00,365.45L236.75,365.92L237.50,365.36L238.25,365.44L239.00,365.64L239.75,365.56L240.50,365.50L241.25,365.59L242.00,365.63L242.75,366.19L243.50,366.03L244.25,366.24L245.00,365.88L245.75,366.24L246.50,366.00L247.25,366.20L248.00,366.31L248.75,366.25L249.50,366.51L250.00,367.00Z" fill="#1c1c1c"/>
<path d="M112.70,299.50H292.10V367.00" fill="none" stroke="#555" stroke-width="1.1"/>
<path d="M112.70,299.50V367.00H292.10" fill="none" stroke="#222" stroke-width="1.2"/>
<path d="M107.90,367.00H112.70M109.90,364.30H112.70M109.90,361.60H112.70M109.90,358.90H112.70M109.90,356.20H112.70M107.90,353.50H112.70M109.90,350.80H112.70M109.90,348.10H112.70M109.90,345.40H112.70M109.90,342.70H112.70M107.90,340.00H112.70M109.90,337.30H112.70M109.90,334.60H112.70M109.90,331.90H112.70M109.90,329.20H112.70M107.90,326.50H112.70M109.90,323.80H112.70M109.90,321.10H112.70M109.90,318.40H112.70M109.90,315.70H112.70M107.90,313.00H112.70M109.90,310.30H112.70M109.90,307.60H112.70M109.90,304.90H112.70M109.90,302.20H112.70M107.90,299.50H112.70" stroke="#333" stroke-width="0.9"/>
<path d="M112.70,367.00V370.80M126.20,367.00V369.00M134.10,367.00V369.00M139.70,367.00V369.00M144.05,367.00V369.00M147.60,367.00V369.00M150.60,367.00V369.00M153.20,367.00V369.00M155.50,367.00V369.00M157.55,367.00V370.80M171.05,367.00V369.00M178.95,367.00V369.00M184.55,367.00V369.00M188.90,367.00V369.00M192.45,367.00V369.00M195.45,367.00V369.00M198.05,367.00V369.00M200.35,367.00V369.00M202.40,367.00V370.80M215.90,367.00V369.00M223.80,367.00V369.00M229.40,367.00V369.00M233.75,367.00V369.00M237.30,367.00V369.00M240.30,367.00V369.00M242.90,367.00V369.00M245.20,367.00V369.00M247.25,367.00V370.80M260.75,367.00V369.00M268.65,367.00V369.00M274.25,367.00V369.00M278.60,367.00V369.00M282.15,367.00V369.00M285.15,367.00V369.00M287.75,367.00V369.00M290.05,367.00V369.00M292.10,367.00V370.80" stroke="#333" stroke-width="0.9"/>
<text transform="translate(105.90,378.80) scale(1.32,1)" class="xl">10</text>
<text transform="translate(115.70,375.00) scale(1.32,1)" class="xl">0</text>
<text transform="translate(150.75,378.80) scale(1.32,1)" class="xl">10</text>
<text transform="translate(160.55,375.00) scale(1.32,1)" class="xl">1</text>
<text transform="translate(195.60,378.80) scale(1.32,1)" class="xl">10</text>
<text transform="translate(205.40,375.00) scale(1.32,1)" class="xl">2</text>
<text transform="translate(240.45,378.80) scale(1.32,1)" class="xl">10</text>
<text transform="translate(250.25,375.00) scale(1.32,1)" class="xl">3</text>
<text transform="translate(285.30,378.80) scale(1.32,1)" class="xl">10</text>
<text transform="translate(295.10,375.00) scale(1.32,1)" class="xl">4</text>
<text transform="translate(104.10,365.80) rotate(-90) scale(0.83,1.2)" class="yl" text-anchor="middle">0</text>
<text transform="translate(104.10,352.30) rotate(-90) scale(0.83,1.2)" class="yl" text-anchor="middle">40</text>
<text transform="translate(104.10,338.80) rotate(-90) scale(0.83,1.2)" class="yl" text-anchor="middle">80</text>
<text transform="translate(104.10,325.30) rotate(-90) scale(0.83,1.2)" class="yl" text-anchor="middle">120</text>
<text transform="translate(104.10,311.80) rotate(-90) scale(0.83,1.2)" class="yl" text-anchor="middle">160</text>
<text transform="translate(104.10,298.30) rotate(-90) scale(0.83,1.2)" class="yl" text-anchor="middle">200</text>
<path d="M115.50,342.10H144.30" stroke="#2a2a2a" stroke-width="1.0"/>
<path d="M146.40,341.00H292.10" stroke="#3a3a3a" stroke-width="1.0"/>
<rect x="114.80" y="335.80" width="1.4" height="12.60" fill="#5a5a5a"/>
<rect x="143.60" y="335.80" width="1.4" height="12.60" fill="#5a5a5a"/>
<rect x="145.70" y="334.70" width="1.4" height="12.60" fill="#5a5a5a"/>
<text x="285.50" y="313.50" class="pc" text-anchor="end">90 %</text>
<path d="M334.80,366.70L334.80,364.55L335.55,364.30L336.30,364.59L337.05,363.00L337.80,364.34L338.55,363.04L339.30,362.13L340.05,363.16L340.80,361.97L341.55,363.94L342.30,362.81L343.05,362.45L343.80,363.47L344.55,362.69L345.30,362.16L346.05,363.23L346.80,361.83L347.55,363.30L348.30,361.83L349.05,362.66L349.80,363.83L350.55,362.70L351.30,362.99L352.05,362.33L352.80,362.12L353.55,362.24L354.30,362.42L355.05,363.29L355.80,363.00L356.55,363.24L357.30,364.19L358.05,362.86L358.80,362.75L359.55,363.33L360.30,362.16L361.05,361.95L361.80,362.15L362.55,361.59L363.30,361.75L364.05,361.29L364.80,361.92L365.55,361.75L366.30,360.64L367.05,361.46L367.80,360.62L368.55,359.48L369.30,361.26L370.05,358.74L370.80,358.13L371.55,357.61L372.30,358.60L373.05,359.32L373.80,358.89L374.55,357.65L375.30,357.25L376.05,356.85L376.80,358.04L377.55,357.69L378.30,357.04L379.05,357.75L379.80,357.07L380.55,358.61L381.30,357.71L382.05,356.13L382.80,357.78L383.55,355.31L384.30,355.96L385.05,355.35L385.80,354.69L386.55,353.96L387.30,356.18L388.05,354.95L388.80,356.46L389.55,358.32L390.30,356.31L391.05,356.40L391.80,357.37L392.55,357.08L393.30,357.48L394.05,358.07L394.80,356.16L395.55,355.91L396.30,355.40L397.05,354.54L397.80,356.19L398.55,355.11L399.30,354.12L400.05,351.85L400.80,353.08L401.55,352.89L402.30,352.34L403.05,353.50L403.80,352.93L404.55,351.96L405.30,351.31L406.05,351.01L406.80,350.39L407.55,350.74L408.30,351.83L409.05,351.55L409.80,352.00L410.55,351.43L411.30,350.51L412.05,351.59L412.80,351.64L413.55,353.10L414.30,352.48L415.05,351.71L415.80,352.52L416.55,353.53L417.30,351.79L418.05,354.75L418.80,353.70L419.55,354.60L420.30,355.15L421.05,357.10L421.80,358.29L422.55,357.93L423.30,357.13L424.05,359.47L424.80,358.54L425.55,359.11L426.30,361.65L427.05,361.16L427.80,361.85L428.55,362.19L429.30,363.60L430.05,362.41L430.80,363.63L431.55,363.41L432.30,363.99L433.05,363.25L433.80,364.01L434.55,363.97L435.30,363.90L436.05,364.13L436.80,364.78L437.55,364.43L438.30,365.37L439.05,364.73L439.80,364.82L440.55,364.96L441.30,365.66L442.05,365.17L442.80,365.11L443.55,365.13L444.30,365.18L445.05,365.58L445.80,365.57L446.55,365.65L447.30,365.72L448.05,365.41L448.80,365.69L449.55,365.60L450.30,365.91L451.05,365.95L451.80,366.03L452.55,365.70L453.30,366.08L454.05,366.15L454.80,366.22L455.55,365.98L456.30,366.07L457.05,366.14L457.80,366.21L458.00,366.70Z" fill="#1c1c1c"/>
<path d="M333.80,298.30H512.30V366.70" fill="none" stroke="#555" stroke-width="1.1"/>
<path d="M333.80,298.30V366.70H512.30" fill="none" stroke="#222" stroke-width="1.2"/>
<path d="M329.00,366.70H333.80M331.00,363.96H333.80M331.00,361.23H333.80M331.00,358.49H333.80M331.00,355.76H333.80M329.00,353.02H333.80M331.00,350.28H333.80M331.00,347.55H333.80M331.00,344.81H333.80M331.00,342.08H333.80M329.00,339.34H333.80M331.00,336.60H333.80M331.00,333.87H333.80M331.00,331.13H333.80M331.00,328.40H333.80M329.00,325.66H333.80M331.00,322.92H333.80M331.00,320.19H333.80M331.00,317.45H333.80M331.00,314.72H333.80M329.00,311.98H333.80M331.00,309.24H333.80M331.00,306.51H333.80M331.00,303.77H333.80M331.00,301.04H333.80M329.00,298.30H333.80" stroke="#333" stroke-width="0.9"/>
<path d="M333.80,366.70V370.50M347.23,366.70V368.70M355.09,366.70V368.70M360.67,366.70V368.70M364.99,366.70V368.70M368.52,366.70V368.70M371.51,366.70V368.70M374.10,366.70V368.70M376.38,366.70V368.70M378.43,366.70V370.50M391.86,366.70V368.70M399.72,366.70V368.70M405.29,366.70V368.70M409.62,366.70V368.70M413.15,366.70V368.70M416.14,366.70V368.70M418.73,366.70V368.70M421.01,366.70V368.70M423.05,366.70V370.50M436.48,366.70V368.70M444.34,366.70V368.70M449.92,366.70V368.70M454.24,366.70V368.70M457.77,366.70V368.70M460.76,366.70V368.70M463.35,366.70V368.70M465.63,366.70V368.70M467.67,366.70V370.50M481.11,366.70V368.70M488.97,366.70V368.70M494.54,366.70V368.70M498.87,366.70V368.70M502.40,366.70V368.70M505.39,366.70V368.70M507.98,366.70V368.70M510.26,366.70V368.70M512.30,366.70V370.50" stroke="#333" stroke-width="0.9"/>
<text transform="translate(327.00,378.50) scale(1.32,1)" class="xl">10</text>
<text transform="translate(336.80,374.70) scale(1.32,1)" class="xl">0</text>
<text transform="translate(371.62,378.50) scale(1.32,1)" class="xl">10</text>
<text transform="translate(381.43,374.70) scale(1.32,1)" class="xl">1</text>
<text transform="translate(416.25,378.50) scale(1.32,1)" class="xl">10</text>
<text transform="translate(426.05,374.70) scale(1.32,1)" class="xl">2</text>
<text transform="translate(460.87,378.50) scale(1.32,1)" class="xl">10</text>
<text transform="translate(470.67,374.70) scale(1.32,1)" class="xl">3</text>
<text transform="translate(505.50,378.50) scale(1.32,1)" class="xl">10</text>
<text transform="translate(515.30,374.70) scale(1.32,1)" class="xl">4</text>
<text transform="translate(325.20,365.50) rotate(-90) scale(0.83,1.2)" class="yl" text-anchor="middle">0</text>
<text transform="translate(325.20,351.82) rotate(-90) scale(0.83,1.2)" class="yl" text-anchor="middle">40</text>
<text transform="translate(325.20,338.14) rotate(-90) scale(0.83,1.2)" class="yl" text-anchor="middle">80</text>
<text transform="translate(325.20,324.46) rotate(-90) scale(0.83,1.2)" class="yl" text-anchor="middle">120</text>
<text transform="translate(325.20,310.78) rotate(-90) scale(0.83,1.2)" class="yl" text-anchor="middle">160</text>
<text transform="translate(325.20,297.10) rotate(-90) scale(0.83,1.2)" class="yl" text-anchor="middle">200</text>
<path d="M336.30,341.50H365.10" stroke="#2a2a2a" stroke-width="1.0"/>
<path d="M367.20,340.10H512.30" stroke="#3a3a3a" stroke-width="1.0"/>
<rect x="335.60" y="335.20" width="1.4" height="12.60" fill="#5a5a5a"/>
<rect x="364.40" y="335.20" width="1.4" height="12.60" fill="#5a5a5a"/>
<rect x="366.50" y="333.80" width="1.4" height="12.60" fill="#5a5a5a"/>
<text x="505.80" y="313.10" class="pc" text-anchor="end">84 %</text>
</svg>
</body></html>
